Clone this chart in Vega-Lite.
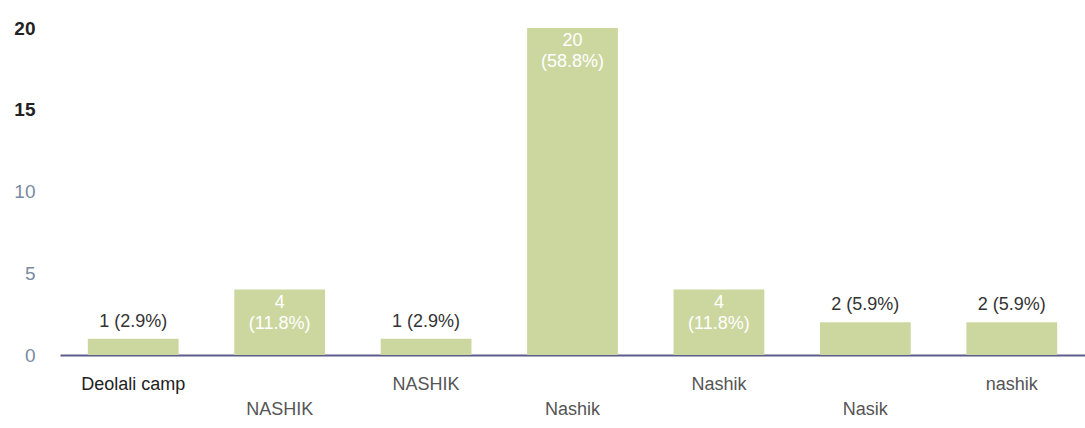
{
  "$schema": "https://vega.github.io/schema/vega-lite/v6.json",
  "width": 1025,
  "height": 327,
  "autosize": {"type": "none"},
  "padding": {"left": 60, "top": 28, "right": 0, "bottom": 73},
  "background": "white",
  "config": {"view": {"stroke": null}, "font": "Liberation Sans"},
  "data": {
    "values": [
      {"city": "Deolali camp", "count": 1, "outside": "1 (2.9%)", "in1": "", "in2": ""},
      {"city": "NASHIK", "count": 4, "outside": "", "in1": "4", "in2": "(11.8%)"},
      {"city": "NASHIK ", "count": 1, "outside": "1 (2.9%)", "in1": "", "in2": ""},
      {"city": "Nashik", "count": 20, "outside": "", "in1": "20", "in2": "(58.8%)"},
      {"city": "Nashik ", "count": 4, "outside": "", "in1": "4", "in2": "(11.8%)"},
      {"city": "Nasik", "count": 2, "outside": "2 (5.9%)", "in1": "", "in2": ""},
      {"city": "nashik", "count": 2, "outside": "2 (5.9%)", "in1": "", "in2": ""}
    ]
  },
  "encoding": {
    "x": {
      "field": "city",
      "type": "nominal",
      "sort": null,
      "scale": {"paddingInner": 0.38, "paddingOuter": 0.19},
      "axis": {
        "title": null,
        "labelAngle": 0,
        "labelOverlap": false,
        "labelBound": false,
        "labelFontSize": 18,
        "labelColor": {"condition": {"test": "datum.value === 'Deolali camp'", "value": "#222222"}, "value": "#555555"},
        "labelPadding": {"condition": {"test": "indexof(['NASHIK','Nashik','Nasik'], datum.value) >= 0", "value": 45}, "value": 20},
        "ticks": false,
        "domainColor": "#5b5d8a",
        "domainWidth": 2
      }
    }
  },
  "layer": [
    {
      "mark": {"type": "bar", "color": "#ccd7a0"},
      "encoding": {
        "y": {
          "field": "count",
          "type": "quantitative",
          "scale": {"domain": [0, 20]},
          "axis": {
            "title": null,
            "values": [0, 5, 10, 15, 20],
            "grid": false,
            "domain": false,
            "ticks": false,
            "labelPadding": 25,
            "labelFontSize": 19,
            "labelColor": {"condition": {"test": "datum.value >= 15", "value": "#222222"}, "value": "#7a8aa0"},
            "labelFontWeight": {"condition": {"test": "datum.value >= 15", "value": "bold"}, "value": "normal"}
          }
        }
      }
    },
    {
      "mark": {"type": "text", "baseline": "bottom", "dy": -8, "fontSize": 18, "color": "#333333"},
      "encoding": {
        "y": {"field": "count", "type": "quantitative"},
        "text": {"field": "outside"}
      }
    },
    {
      "mark": {"type": "text", "baseline": "top", "dy": 4, "fontSize": 18, "color": "white"},
      "encoding": {
        "y": {"field": "count", "type": "quantitative"},
        "text": {"field": "in1"}
      }
    },
    {
      "mark": {"type": "text", "baseline": "top", "dy": 25, "fontSize": 18, "color": "white"},
      "encoding": {
        "y": {"field": "count", "type": "quantitative"},
        "text": {"field": "in2"}
      }
    }
  ]
}
